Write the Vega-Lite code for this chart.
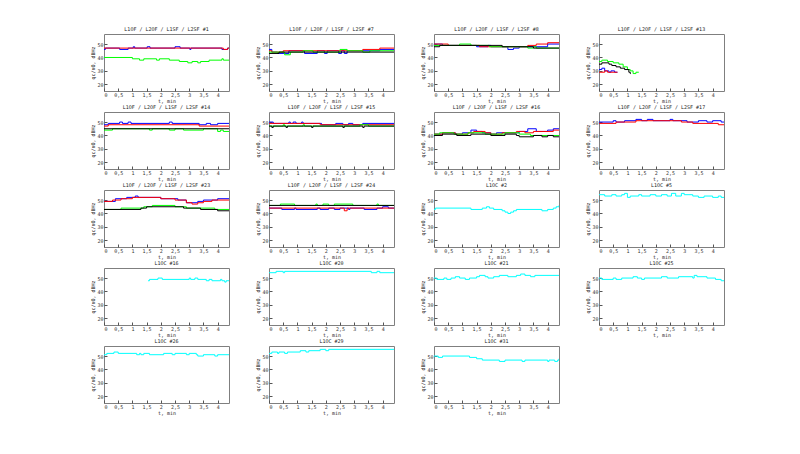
{
  "$schema": "https://vega.github.io/schema/vega-lite/v6.json",
  "padding": {"left": 90, "top": 26, "right": 5, "bottom": 5},
  "background": "white",
  "data": {
    "values": [
      {"p": "F1", "s": "L1OF", "t": 0, "q": 46}, {"p": "F1", "s": "L1OF", "t": 0.05, "q": 47}, {"p": "F1", "s": "L1OF", "t": 0.55, "q": 46}, {"p": "F1", "s": "L1OF", "t": 0.85, "q": 47}, {"p": "F1", "s": "L1OF", "t": 1.03, "q": 48}, {"p": "F1", "s": "L1OF", "t": 1.08, "q": 47}, {"p": "F1", "s": "L1OF", "t": 1.52, "q": 48}, {"p": "F1", "s": "L1OF", "t": 1.62, "q": 47}, {"p": "F1", "s": "L1OF", "t": 2.5, "q": 48}, {"p": "F1", "s": "L1OF", "t": 2.68, "q": 47}, {"p": "F1", "s": "L1OF", "t": 3.02, "q": 46}, {"p": "F1", "s": "L1OF", "t": 3.06, "q": 47}, {"p": "F1", "s": "L1OF", "t": 4.15, "q": 46}, {"p": "F1", "s": "L1OF", "t": 4.35, "q": 47}, {"p": "F1", "s": "L1OF", "t": 4.4, "q": 47},
      {"p": "F1", "s": "L2OF", "t": 0, "q": 47}, {"p": "F1", "s": "L2OF", "t": 4.2, "q": 46}, {"p": "F1", "s": "L2OF", "t": 4.35, "q": 47}, {"p": "F1", "s": "L2OF", "t": 4.4, "q": 47},
      {"p": "F1", "s": "L1SF", "t": 0, "q": 40}, {"p": "F1", "s": "L1SF", "t": 1.0, "q": 39}, {"p": "F1", "s": "L1SF", "t": 1.25, "q": 38}, {"p": "F1", "s": "L1SF", "t": 1.4, "q": 39}, {"p": "F1", "s": "L1SF", "t": 1.85, "q": 38}, {"p": "F1", "s": "L1SF", "t": 1.95, "q": 39}, {"p": "F1", "s": "L1SF", "t": 2.3, "q": 38}, {"p": "F1", "s": "L1SF", "t": 2.65, "q": 37}, {"p": "F1", "s": "L1SF", "t": 2.95, "q": 36}, {"p": "F1", "s": "L1SF", "t": 3.1, "q": 37}, {"p": "F1", "s": "L1SF", "t": 3.3, "q": 36}, {"p": "F1", "s": "L1SF", "t": 3.4, "q": 37}, {"p": "F1", "s": "L1SF", "t": 3.7, "q": 38}, {"p": "F1", "s": "L1SF", "t": 4.15, "q": 39}, {"p": "F1", "s": "L1SF", "t": 4.2, "q": 38}, {"p": "F1", "s": "L1SF", "t": 4.4, "q": 38},

      {"p": "F7", "s": "L1OF", "t": 0, "q": 46}, {"p": "F7", "s": "L1OF", "t": 0.1, "q": 44}, {"p": "F7", "s": "L1OF", "t": 0.3, "q": 43}, {"p": "F7", "s": "L1OF", "t": 0.7, "q": 45}, {"p": "F7", "s": "L1OF", "t": 1.25, "q": 43}, {"p": "F7", "s": "L1OF", "t": 1.7, "q": 45}, {"p": "F7", "s": "L1OF", "t": 1.95, "q": 43}, {"p": "F7", "s": "L1OF", "t": 2.05, "q": 45}, {"p": "F7", "s": "L1OF", "t": 2.45, "q": 43}, {"p": "F7", "s": "L1OF", "t": 2.55, "q": 45}, {"p": "F7", "s": "L1OF", "t": 2.65, "q": 43}, {"p": "F7", "s": "L1OF", "t": 2.75, "q": 45}, {"p": "F7", "s": "L1OF", "t": 3.9, "q": 46}, {"p": "F7", "s": "L1OF", "t": 4.4, "q": 46},
      {"p": "F7", "s": "L2OF", "t": 0, "q": 45}, {"p": "F7", "s": "L2OF", "t": 0.1, "q": 44}, {"p": "F7", "s": "L2OF", "t": 0.5, "q": 45}, {"p": "F7", "s": "L2OF", "t": 3.3, "q": 46}, {"p": "F7", "s": "L2OF", "t": 3.9, "q": 47}, {"p": "F7", "s": "L2OF", "t": 4.4, "q": 47},
      {"p": "F7", "s": "L1SF", "t": 0, "q": 44}, {"p": "F7", "s": "L1SF", "t": 0.55, "q": 42}, {"p": "F7", "s": "L1SF", "t": 0.75, "q": 44}, {"p": "F7", "s": "L1SF", "t": 1.2, "q": 45}, {"p": "F7", "s": "L1SF", "t": 1.55, "q": 44}, {"p": "F7", "s": "L1SF", "t": 2.5, "q": 46}, {"p": "F7", "s": "L1SF", "t": 2.75, "q": 45}, {"p": "F7", "s": "L1SF", "t": 3.3, "q": 44}, {"p": "F7", "s": "L1SF", "t": 3.55, "q": 45}, {"p": "F7", "s": "L1SF", "t": 4.4, "q": 45},
      {"p": "F7", "s": "L2SF", "t": 0, "q": 43}, {"p": "F7", "s": "L2SF", "t": 0.35, "q": 44}, {"p": "F7", "s": "L2SF", "t": 4.4, "q": 44},

      {"p": "F8", "s": "L1OF", "t": 0, "q": 50}, {"p": "F8", "s": "L1OF", "t": 0.3, "q": 49}, {"p": "F8", "s": "L1OF", "t": 1.5, "q": 48}, {"p": "F8", "s": "L1OF", "t": 1.9, "q": 49}, {"p": "F8", "s": "L1OF", "t": 2.0, "q": 48}, {"p": "F8", "s": "L1OF", "t": 2.6, "q": 46}, {"p": "F8", "s": "L1OF", "t": 2.8, "q": 47}, {"p": "F8", "s": "L1OF", "t": 3.0, "q": 48}, {"p": "F8", "s": "L1OF", "t": 4.0, "q": 50}, {"p": "F8", "s": "L1OF", "t": 4.4, "q": 50},
      {"p": "F8", "s": "L2OF", "t": 0, "q": 50}, {"p": "F8", "s": "L2OF", "t": 0.5, "q": 49}, {"p": "F8", "s": "L2OF", "t": 1.6, "q": 48}, {"p": "F8", "s": "L2OF", "t": 3.3, "q": 49}, {"p": "F8", "s": "L2OF", "t": 3.6, "q": 50}, {"p": "F8", "s": "L2OF", "t": 4.0, "q": 51}, {"p": "F8", "s": "L2OF", "t": 4.4, "q": 51},
      {"p": "F8", "s": "L1SF", "t": 0, "q": 49}, {"p": "F8", "s": "L1SF", "t": 0.9, "q": 50}, {"p": "F8", "s": "L1SF", "t": 1.3, "q": 49}, {"p": "F8", "s": "L1SF", "t": 1.95, "q": 48}, {"p": "F8", "s": "L1SF", "t": 3.3, "q": 47}, {"p": "F8", "s": "L1SF", "t": 3.5, "q": 48}, {"p": "F8", "s": "L1SF", "t": 3.6, "q": 47}, {"p": "F8", "s": "L1SF", "t": 4.4, "q": 47},
      {"p": "F8", "s": "L2SF", "t": 0, "q": 48}, {"p": "F8", "s": "L2SF", "t": 0.2, "q": 49}, {"p": "F8", "s": "L2SF", "t": 2.4, "q": 48}, {"p": "F8", "s": "L2SF", "t": 3.5, "q": 47}, {"p": "F8", "s": "L2SF", "t": 4.4, "q": 47},

      {"p": "F13", "s": "L1OF", "t": 0, "q": 31}, {"p": "F13", "s": "L1OF", "t": 0.1, "q": 32}, {"p": "F13", "s": "L1OF", "t": 0.2, "q": 30}, {"p": "F13", "s": "L1OF", "t": 0.35, "q": 29}, {"p": "F13", "s": "L1OF", "t": 0.42, "q": 30}, {"p": "F13", "s": "L1OF", "t": 0.55, "q": 29}, {"p": "F13", "s": "L1OF", "t": 0.65, "q": 29},
      {"p": "F13", "s": "L2OF", "t": 0, "q": 29}, {"p": "F13", "s": "L2OF", "t": 0.2, "q": 30}, {"p": "F13", "s": "L2OF", "t": 0.3, "q": 29}, {"p": "F13", "s": "L2OF", "t": 0.65, "q": 29},
      {"p": "F13", "s": "L1SF", "t": 0, "q": 37}, {"p": "F13", "s": "L1SF", "t": 0.1, "q": 38}, {"p": "F13", "s": "L1SF", "t": 0.3, "q": 37}, {"p": "F13", "s": "L1SF", "t": 0.5, "q": 36}, {"p": "F13", "s": "L1SF", "t": 0.7, "q": 35}, {"p": "F13", "s": "L1SF", "t": 0.85, "q": 33}, {"p": "F13", "s": "L1SF", "t": 1.0, "q": 31}, {"p": "F13", "s": "L1SF", "t": 1.1, "q": 30}, {"p": "F13", "s": "L1SF", "t": 1.2, "q": 28}, {"p": "F13", "s": "L1SF", "t": 1.3, "q": 29}, {"p": "F13", "s": "L1SF", "t": 1.4, "q": 29},
      {"p": "F13", "s": "L2SF", "t": 0, "q": 35}, {"p": "F13", "s": "L2SF", "t": 0.1, "q": 36}, {"p": "F13", "s": "L2SF", "t": 0.35, "q": 35}, {"p": "F13", "s": "L2SF", "t": 0.45, "q": 34}, {"p": "F13", "s": "L2SF", "t": 0.6, "q": 33}, {"p": "F13", "s": "L2SF", "t": 0.75, "q": 32}, {"p": "F13", "s": "L2SF", "t": 0.9, "q": 31}, {"p": "F13", "s": "L2SF", "t": 1.05, "q": 29}, {"p": "F13", "s": "L2SF", "t": 1.1, "q": 28}, {"p": "F13", "s": "L2SF", "t": 1.12, "q": 28},

      {"p": "F14", "s": "L1OF", "t": 0, "q": 48}, {"p": "F14", "s": "L1OF", "t": 0.15, "q": 49}, {"p": "F14", "s": "L1OF", "t": 0.55, "q": 50}, {"p": "F14", "s": "L1OF", "t": 0.65, "q": 49}, {"p": "F14", "s": "L1OF", "t": 0.85, "q": 50}, {"p": "F14", "s": "L1OF", "t": 0.95, "q": 49}, {"p": "F14", "s": "L1OF", "t": 2.3, "q": 50}, {"p": "F14", "s": "L1OF", "t": 2.4, "q": 49}, {"p": "F14", "s": "L1OF", "t": 3.35, "q": 48}, {"p": "F14", "s": "L1OF", "t": 3.6, "q": 49}, {"p": "F14", "s": "L1OF", "t": 3.75, "q": 48}, {"p": "F14", "s": "L1OF", "t": 4.0, "q": 49}, {"p": "F14", "s": "L1OF", "t": 4.4, "q": 49},
      {"p": "F14", "s": "L2OF", "t": 0, "q": 47}, {"p": "F14", "s": "L2OF", "t": 0.15, "q": 48}, {"p": "F14", "s": "L2OF", "t": 3.35, "q": 47}, {"p": "F14", "s": "L2OF", "t": 4.4, "q": 47},
      {"p": "F14", "s": "L1SF", "t": 0, "q": 44}, {"p": "F14", "s": "L1SF", "t": 0.3, "q": 45}, {"p": "F14", "s": "L1SF", "t": 1.6, "q": 44}, {"p": "F14", "s": "L1SF", "t": 1.7, "q": 45}, {"p": "F14", "s": "L1SF", "t": 2.3, "q": 44}, {"p": "F14", "s": "L1SF", "t": 2.5, "q": 45}, {"p": "F14", "s": "L1SF", "t": 2.8, "q": 44}, {"p": "F14", "s": "L1SF", "t": 3.5, "q": 45}, {"p": "F14", "s": "L1SF", "t": 4.0, "q": 43}, {"p": "F14", "s": "L1SF", "t": 4.1, "q": 44}, {"p": "F14", "s": "L1SF", "t": 4.2, "q": 43}, {"p": "F14", "s": "L1SF", "t": 4.4, "q": 43},
      {"p": "F14", "s": "L2SF", "t": 0, "q": 45}, {"p": "F14", "s": "L2SF", "t": 4.4, "q": 45},

      {"p": "F15", "s": "L1OF", "t": 0, "q": 50}, {"p": "F15", "s": "L1OF", "t": 0.15, "q": 49}, {"p": "F15", "s": "L1OF", "t": 0.7, "q": 50}, {"p": "F15", "s": "L1OF", "t": 0.75, "q": 49}, {"p": "F15", "s": "L1OF", "t": 0.85, "q": 50}, {"p": "F15", "s": "L1OF", "t": 0.95, "q": 49}, {"p": "F15", "s": "L1OF", "t": 1.15, "q": 50}, {"p": "F15", "s": "L1OF", "t": 1.2, "q": 49}, {"p": "F15", "s": "L1OF", "t": 1.85, "q": 48}, {"p": "F15", "s": "L1OF", "t": 2.35, "q": 49}, {"p": "F15", "s": "L1OF", "t": 2.6, "q": 48}, {"p": "F15", "s": "L1OF", "t": 2.8, "q": 49}, {"p": "F15", "s": "L1OF", "t": 2.95, "q": 48}, {"p": "F15", "s": "L1OF", "t": 3.3, "q": 49}, {"p": "F15", "s": "L1OF", "t": 4.4, "q": 49},
      {"p": "F15", "s": "L2OF", "t": 0, "q": 49}, {"p": "F15", "s": "L2OF", "t": 1.8, "q": 48}, {"p": "F15", "s": "L2OF", "t": 4.4, "q": 48},
      {"p": "F15", "s": "L1SF", "t": 0, "q": 47}, {"p": "F15", "s": "L1SF", "t": 0.5, "q": 48}, {"p": "F15", "s": "L1SF", "t": 0.55, "q": 47}, {"p": "F15", "s": "L1SF", "t": 1.2, "q": 48}, {"p": "F15", "s": "L1SF", "t": 1.25, "q": 47}, {"p": "F15", "s": "L1SF", "t": 3.2, "q": 48}, {"p": "F15", "s": "L1SF", "t": 3.5, "q": 47}, {"p": "F15", "s": "L1SF", "t": 4.4, "q": 47},
      {"p": "F15", "s": "L2SF", "t": 0, "q": 47}, {"p": "F15", "s": "L2SF", "t": 0.1, "q": 46}, {"p": "F15", "s": "L2SF", "t": 0.15, "q": 47}, {"p": "F15", "s": "L2SF", "t": 0.6, "q": 46}, {"p": "F15", "s": "L2SF", "t": 0.65, "q": 47}, {"p": "F15", "s": "L2SF", "t": 1.5, "q": 46}, {"p": "F15", "s": "L2SF", "t": 1.55, "q": 47}, {"p": "F15", "s": "L2SF", "t": 2.6, "q": 46}, {"p": "F15", "s": "L2SF", "t": 2.65, "q": 47}, {"p": "F15", "s": "L2SF", "t": 3.3, "q": 46}, {"p": "F15", "s": "L2SF", "t": 3.35, "q": 47}, {"p": "F15", "s": "L2SF", "t": 4.4, "q": 47},

      {"p": "F16", "s": "L1OF", "t": 0, "q": 41}, {"p": "F16", "s": "L1OF", "t": 0.3, "q": 42}, {"p": "F16", "s": "L1OF", "t": 0.75, "q": 41}, {"p": "F16", "s": "L1OF", "t": 1.0, "q": 42}, {"p": "F16", "s": "L1OF", "t": 1.3, "q": 44}, {"p": "F16", "s": "L1OF", "t": 1.5, "q": 43}, {"p": "F16", "s": "L1OF", "t": 1.7, "q": 42}, {"p": "F16", "s": "L1OF", "t": 2.0, "q": 41}, {"p": "F16", "s": "L1OF", "t": 2.2, "q": 42}, {"p": "F16", "s": "L1OF", "t": 3.0, "q": 43}, {"p": "F16", "s": "L1OF", "t": 3.3, "q": 45}, {"p": "F16", "s": "L1OF", "t": 3.6, "q": 43}, {"p": "F16", "s": "L1OF", "t": 4.0, "q": 44}, {"p": "F16", "s": "L1OF", "t": 4.2, "q": 45}, {"p": "F16", "s": "L1OF", "t": 4.4, "q": 45},
      {"p": "F16", "s": "L2OF", "t": 0, "q": 41}, {"p": "F16", "s": "L2OF", "t": 0.3, "q": 42}, {"p": "F16", "s": "L2OF", "t": 0.75, "q": 41}, {"p": "F16", "s": "L2OF", "t": 1.2, "q": 42}, {"p": "F16", "s": "L2OF", "t": 1.4, "q": 43}, {"p": "F16", "s": "L2OF", "t": 1.8, "q": 42}, {"p": "F16", "s": "L2OF", "t": 2.0, "q": 41}, {"p": "F16", "s": "L2OF", "t": 2.4, "q": 42}, {"p": "F16", "s": "L2OF", "t": 2.9, "q": 43}, {"p": "F16", "s": "L2OF", "t": 3.2, "q": 42}, {"p": "F16", "s": "L2OF", "t": 3.5, "q": 43}, {"p": "F16", "s": "L2OF", "t": 4.2, "q": 44}, {"p": "F16", "s": "L2OF", "t": 4.4, "q": 44},
      {"p": "F16", "s": "L1SF", "t": 0, "q": 41}, {"p": "F16", "s": "L1SF", "t": 0.2, "q": 42}, {"p": "F16", "s": "L1SF", "t": 0.7, "q": 41}, {"p": "F16", "s": "L1SF", "t": 1.2, "q": 42}, {"p": "F16", "s": "L1SF", "t": 1.8, "q": 41}, {"p": "F16", "s": "L1SF", "t": 2.5, "q": 42}, {"p": "F16", "s": "L1SF", "t": 3.0, "q": 41}, {"p": "F16", "s": "L1SF", "t": 3.4, "q": 40}, {"p": "F16", "s": "L1SF", "t": 4.4, "q": 40},
      {"p": "F16", "s": "L2SF", "t": 0, "q": 40}, {"p": "F16", "s": "L2SF", "t": 0.3, "q": 41}, {"p": "F16", "s": "L2SF", "t": 0.8, "q": 40}, {"p": "F16", "s": "L2SF", "t": 1.3, "q": 41}, {"p": "F16", "s": "L2SF", "t": 2.0, "q": 40}, {"p": "F16", "s": "L2SF", "t": 2.5, "q": 41}, {"p": "F16", "s": "L2SF", "t": 2.9, "q": 40}, {"p": "F16", "s": "L2SF", "t": 3.0, "q": 39}, {"p": "F16", "s": "L2SF", "t": 3.5, "q": 40}, {"p": "F16", "s": "L2SF", "t": 3.8, "q": 39}, {"p": "F16", "s": "L2SF", "t": 4.0, "q": 40}, {"p": "F16", "s": "L2SF", "t": 4.2, "q": 39}, {"p": "F16", "s": "L2SF", "t": 4.4, "q": 39},

      {"p": "F17", "s": "L1OF", "t": 0, "q": 50}, {"p": "F17", "s": "L1OF", "t": 0.5, "q": 51}, {"p": "F17", "s": "L1OF", "t": 0.6, "q": 50}, {"p": "F17", "s": "L1OF", "t": 0.9, "q": 51}, {"p": "F17", "s": "L1OF", "t": 1.3, "q": 52}, {"p": "F17", "s": "L1OF", "t": 1.5, "q": 51}, {"p": "F17", "s": "L1OF", "t": 1.7, "q": 52}, {"p": "F17", "s": "L1OF", "t": 1.9, "q": 51}, {"p": "F17", "s": "L1OF", "t": 2.5, "q": 52}, {"p": "F17", "s": "L1OF", "t": 2.6, "q": 51}, {"p": "F17", "s": "L1OF", "t": 3.1, "q": 50}, {"p": "F17", "s": "L1OF", "t": 3.5, "q": 51}, {"p": "F17", "s": "L1OF", "t": 3.8, "q": 50}, {"p": "F17", "s": "L1OF", "t": 4.0, "q": 51}, {"p": "F17", "s": "L1OF", "t": 4.3, "q": 50}, {"p": "F17", "s": "L1OF", "t": 4.4, "q": 50},
      {"p": "F17", "s": "L2OF", "t": 0, "q": 49}, {"p": "F17", "s": "L2OF", "t": 0.6, "q": 50}, {"p": "F17", "s": "L2OF", "t": 1.3, "q": 51}, {"p": "F17", "s": "L2OF", "t": 2.9, "q": 50}, {"p": "F17", "s": "L2OF", "t": 3.3, "q": 49}, {"p": "F17", "s": "L2OF", "t": 4.2, "q": 48}, {"p": "F17", "s": "L2OF", "t": 4.4, "q": 48},

      {"p": "F23", "s": "L1OF", "t": 0, "q": 49}, {"p": "F23", "s": "L1OF", "t": 0.4, "q": 51}, {"p": "F23", "s": "L1OF", "t": 0.8, "q": 52}, {"p": "F23", "s": "L1OF", "t": 1.1, "q": 53}, {"p": "F23", "s": "L1OF", "t": 1.2, "q": 52}, {"p": "F23", "s": "L1OF", "t": 2.0, "q": 51}, {"p": "F23", "s": "L1OF", "t": 2.6, "q": 50}, {"p": "F23", "s": "L1OF", "t": 2.9, "q": 48}, {"p": "F23", "s": "L1OF", "t": 3.3, "q": 49}, {"p": "F23", "s": "L1OF", "t": 3.5, "q": 50}, {"p": "F23", "s": "L1OF", "t": 4.0, "q": 51}, {"p": "F23", "s": "L1OF", "t": 4.4, "q": 51},
      {"p": "F23", "s": "L2OF", "t": 0, "q": 49}, {"p": "F23", "s": "L2OF", "t": 0.3, "q": 50}, {"p": "F23", "s": "L2OF", "t": 0.6, "q": 51}, {"p": "F23", "s": "L2OF", "t": 1.0, "q": 52}, {"p": "F23", "s": "L2OF", "t": 2.0, "q": 51}, {"p": "F23", "s": "L2OF", "t": 2.5, "q": 50}, {"p": "F23", "s": "L2OF", "t": 2.9, "q": 48}, {"p": "F23", "s": "L2OF", "t": 3.1, "q": 47}, {"p": "F23", "s": "L2OF", "t": 3.3, "q": 48}, {"p": "F23", "s": "L2OF", "t": 3.5, "q": 49}, {"p": "F23", "s": "L2OF", "t": 3.8, "q": 50}, {"p": "F23", "s": "L2OF", "t": 4.4, "q": 50},
      {"p": "F23", "s": "L1SF", "t": 0, "q": 43}, {"p": "F23", "s": "L1SF", "t": 0.6, "q": 44}, {"p": "F23", "s": "L1SF", "t": 1.4, "q": 45}, {"p": "F23", "s": "L1SF", "t": 1.7, "q": 46}, {"p": "F23", "s": "L1SF", "t": 2.5, "q": 45}, {"p": "F23", "s": "L1SF", "t": 2.9, "q": 44}, {"p": "F23", "s": "L1SF", "t": 3.9, "q": 43}, {"p": "F23", "s": "L1SF", "t": 4.4, "q": 43},
      {"p": "F23", "s": "L2SF", "t": 0, "q": 43}, {"p": "F23", "s": "L2SF", "t": 1.3, "q": 44}, {"p": "F23", "s": "L2SF", "t": 1.5, "q": 45}, {"p": "F23", "s": "L2SF", "t": 2.8, "q": 44}, {"p": "F23", "s": "L2SF", "t": 3.4, "q": 43}, {"p": "F23", "s": "L2SF", "t": 4.0, "q": 42}, {"p": "F23", "s": "L2SF", "t": 4.4, "q": 42},

      {"p": "F24", "s": "L1OF", "t": 0, "q": 44}, {"p": "F24", "s": "L1OF", "t": 0.45, "q": 43}, {"p": "F24", "s": "L1OF", "t": 0.9, "q": 44}, {"p": "F24", "s": "L1OF", "t": 0.95, "q": 43}, {"p": "F24", "s": "L1OF", "t": 1.7, "q": 44}, {"p": "F24", "s": "L1OF", "t": 1.8, "q": 43}, {"p": "F24", "s": "L1OF", "t": 2.1, "q": 44}, {"p": "F24", "s": "L1OF", "t": 2.3, "q": 43}, {"p": "F24", "s": "L1OF", "t": 2.5, "q": 44}, {"p": "F24", "s": "L1OF", "t": 2.8, "q": 43}, {"p": "F24", "s": "L1OF", "t": 2.85, "q": 44}, {"p": "F24", "s": "L1OF", "t": 3.35, "q": 43}, {"p": "F24", "s": "L1OF", "t": 3.8, "q": 44}, {"p": "F24", "s": "L1OF", "t": 4.0, "q": 45}, {"p": "F24", "s": "L1OF", "t": 4.2, "q": 44}, {"p": "F24", "s": "L1OF", "t": 4.4, "q": 44},
      {"p": "F24", "s": "L2OF", "t": 0, "q": 44}, {"p": "F24", "s": "L2OF", "t": 2.65, "q": 42}, {"p": "F24", "s": "L2OF", "t": 2.75, "q": 44}, {"p": "F24", "s": "L2OF", "t": 4.4, "q": 44},
      {"p": "F24", "s": "L1SF", "t": 0, "q": 46}, {"p": "F24", "s": "L1SF", "t": 0.4, "q": 47}, {"p": "F24", "s": "L1SF", "t": 0.9, "q": 46}, {"p": "F24", "s": "L1SF", "t": 1.65, "q": 47}, {"p": "F24", "s": "L1SF", "t": 1.7, "q": 46}, {"p": "F24", "s": "L1SF", "t": 1.9, "q": 47}, {"p": "F24", "s": "L1SF", "t": 2.1, "q": 46}, {"p": "F24", "s": "L1SF", "t": 2.3, "q": 47}, {"p": "F24", "s": "L1SF", "t": 2.95, "q": 46}, {"p": "F24", "s": "L1SF", "t": 3.8, "q": 47}, {"p": "F24", "s": "L1SF", "t": 3.85, "q": 46}, {"p": "F24", "s": "L1SF", "t": 4.4, "q": 46},
      {"p": "F24", "s": "L2SF", "t": 0, "q": 46}, {"p": "F24", "s": "L2SF", "t": 4.4, "q": 46},

      {"p": "C2", "s": "L1OC", "t": 0, "q": 43}, {"p": "C2", "s": "L1OC", "t": 0.05, "q": 44}, {"p": "C2", "s": "L1OC", "t": 1.3, "q": 43}, {"p": "C2", "s": "L1OC", "t": 1.7, "q": 44}, {"p": "C2", "s": "L1OC", "t": 1.85, "q": 45}, {"p": "C2", "s": "L1OC", "t": 1.95, "q": 44}, {"p": "C2", "s": "L1OC", "t": 2.1, "q": 43}, {"p": "C2", "s": "L1OC", "t": 2.4, "q": 42}, {"p": "C2", "s": "L1OC", "t": 2.5, "q": 41}, {"p": "C2", "s": "L1OC", "t": 2.6, "q": 40}, {"p": "C2", "s": "L1OC", "t": 2.7, "q": 41}, {"p": "C2", "s": "L1OC", "t": 2.8, "q": 42}, {"p": "C2", "s": "L1OC", "t": 2.9, "q": 43}, {"p": "C2", "s": "L1OC", "t": 3.8, "q": 42}, {"p": "C2", "s": "L1OC", "t": 4.0, "q": 43}, {"p": "C2", "s": "L1OC", "t": 4.2, "q": 44}, {"p": "C2", "s": "L1OC", "t": 4.3, "q": 45}, {"p": "C2", "s": "L1OC", "t": 4.4, "q": 46},

      {"p": "C5", "s": "L1OC", "t": 0, "q": 54}, {"p": "C5", "s": "L1OC", "t": 0.2, "q": 53}, {"p": "C5", "s": "L1OC", "t": 0.45, "q": 54}, {"p": "C5", "s": "L1OC", "t": 0.6, "q": 53}, {"p": "C5", "s": "L1OC", "t": 0.8, "q": 54}, {"p": "C5", "s": "L1OC", "t": 0.9, "q": 55}, {"p": "C5", "s": "L1OC", "t": 1.0, "q": 52}, {"p": "C5", "s": "L1OC", "t": 1.1, "q": 53}, {"p": "C5", "s": "L1OC", "t": 1.4, "q": 54}, {"p": "C5", "s": "L1OC", "t": 1.5, "q": 53}, {"p": "C5", "s": "L1OC", "t": 1.8, "q": 54}, {"p": "C5", "s": "L1OC", "t": 2.0, "q": 53}, {"p": "C5", "s": "L1OC", "t": 2.2, "q": 54}, {"p": "C5", "s": "L1OC", "t": 2.4, "q": 53}, {"p": "C5", "s": "L1OC", "t": 2.55, "q": 55}, {"p": "C5", "s": "L1OC", "t": 2.7, "q": 53}, {"p": "C5", "s": "L1OC", "t": 2.9, "q": 55}, {"p": "C5", "s": "L1OC", "t": 3.0, "q": 54}, {"p": "C5", "s": "L1OC", "t": 3.3, "q": 53}, {"p": "C5", "s": "L1OC", "t": 3.5, "q": 52}, {"p": "C5", "s": "L1OC", "t": 3.7, "q": 53}, {"p": "C5", "s": "L1OC", "t": 4.0, "q": 52}, {"p": "C5", "s": "L1OC", "t": 4.2, "q": 53}, {"p": "C5", "s": "L1OC", "t": 4.3, "q": 52}, {"p": "C5", "s": "L1OC", "t": 4.4, "q": 52},

      {"p": "C16", "s": "L1OC", "t": 1.55, "q": 48}, {"p": "C16", "s": "L1OC", "t": 1.6, "q": 49}, {"p": "C16", "s": "L1OC", "t": 1.9, "q": 50}, {"p": "C16", "s": "L1OC", "t": 2.05, "q": 49}, {"p": "C16", "s": "L1OC", "t": 3.0, "q": 50}, {"p": "C16", "s": "L1OC", "t": 3.05, "q": 49}, {"p": "C16", "s": "L1OC", "t": 3.2, "q": 50}, {"p": "C16", "s": "L1OC", "t": 3.3, "q": 49}, {"p": "C16", "s": "L1OC", "t": 3.6, "q": 48}, {"p": "C16", "s": "L1OC", "t": 3.7, "q": 49}, {"p": "C16", "s": "L1OC", "t": 3.8, "q": 48}, {"p": "C16", "s": "L1OC", "t": 4.1, "q": 49}, {"p": "C16", "s": "L1OC", "t": 4.15, "q": 48}, {"p": "C16", "s": "L1OC", "t": 4.25, "q": 47}, {"p": "C16", "s": "L1OC", "t": 4.3, "q": 48}, {"p": "C16", "s": "L1OC", "t": 4.4, "q": 48},

      {"p": "C20", "s": "L1OC", "t": 0, "q": 54}, {"p": "C20", "s": "L1OC", "t": 0.25, "q": 55}, {"p": "C20", "s": "L1OC", "t": 0.5, "q": 54}, {"p": "C20", "s": "L1OC", "t": 0.55, "q": 55}, {"p": "C20", "s": "L1OC", "t": 3.6, "q": 54}, {"p": "C20", "s": "L1OC", "t": 3.8, "q": 55}, {"p": "C20", "s": "L1OC", "t": 3.9, "q": 54}, {"p": "C20", "s": "L1OC", "t": 4.4, "q": 54},

      {"p": "C21", "s": "L1OC", "t": 0, "q": 50}, {"p": "C21", "s": "L1OC", "t": 0.1, "q": 49}, {"p": "C21", "s": "L1OC", "t": 0.35, "q": 50}, {"p": "C21", "s": "L1OC", "t": 0.45, "q": 49}, {"p": "C21", "s": "L1OC", "t": 0.6, "q": 50}, {"p": "C21", "s": "L1OC", "t": 0.75, "q": 51}, {"p": "C21", "s": "L1OC", "t": 0.9, "q": 50}, {"p": "C21", "s": "L1OC", "t": 1.1, "q": 49}, {"p": "C21", "s": "L1OC", "t": 1.25, "q": 50}, {"p": "C21", "s": "L1OC", "t": 1.5, "q": 51}, {"p": "C21", "s": "L1OC", "t": 1.6, "q": 52}, {"p": "C21", "s": "L1OC", "t": 1.8, "q": 51}, {"p": "C21", "s": "L1OC", "t": 1.9, "q": 50}, {"p": "C21", "s": "L1OC", "t": 2.1, "q": 51}, {"p": "C21", "s": "L1OC", "t": 2.3, "q": 52}, {"p": "C21", "s": "L1OC", "t": 2.6, "q": 51}, {"p": "C21", "s": "L1OC", "t": 2.9, "q": 52}, {"p": "C21", "s": "L1OC", "t": 3.05, "q": 53}, {"p": "C21", "s": "L1OC", "t": 3.2, "q": 52}, {"p": "C21", "s": "L1OC", "t": 3.4, "q": 51}, {"p": "C21", "s": "L1OC", "t": 3.55, "q": 52}, {"p": "C21", "s": "L1OC", "t": 4.4, "q": 52},

      {"p": "C25", "s": "L1OC", "t": 0, "q": 50}, {"p": "C25", "s": "L1OC", "t": 0.1, "q": 49}, {"p": "C25", "s": "L1OC", "t": 0.5, "q": 50}, {"p": "C25", "s": "L1OC", "t": 0.6, "q": 49}, {"p": "C25", "s": "L1OC", "t": 0.8, "q": 50}, {"p": "C25", "s": "L1OC", "t": 1.2, "q": 51}, {"p": "C25", "s": "L1OC", "t": 1.35, "q": 50}, {"p": "C25", "s": "L1OC", "t": 1.5, "q": 49}, {"p": "C25", "s": "L1OC", "t": 1.6, "q": 50}, {"p": "C25", "s": "L1OC", "t": 2.2, "q": 51}, {"p": "C25", "s": "L1OC", "t": 2.4, "q": 50}, {"p": "C25", "s": "L1OC", "t": 2.8, "q": 51}, {"p": "C25", "s": "L1OC", "t": 3.3, "q": 50}, {"p": "C25", "s": "L1OC", "t": 3.35, "q": 52}, {"p": "C25", "s": "L1OC", "t": 3.45, "q": 51}, {"p": "C25", "s": "L1OC", "t": 3.8, "q": 50}, {"p": "C25", "s": "L1OC", "t": 4.1, "q": 49}, {"p": "C25", "s": "L1OC", "t": 4.3, "q": 48}, {"p": "C25", "s": "L1OC", "t": 4.4, "q": 48},

      {"p": "C26", "s": "L1OC", "t": 0, "q": 51}, {"p": "C26", "s": "L1OC", "t": 0.1, "q": 52}, {"p": "C26", "s": "L1OC", "t": 0.35, "q": 53}, {"p": "C26", "s": "L1OC", "t": 0.5, "q": 52}, {"p": "C26", "s": "L1OC", "t": 1.15, "q": 51}, {"p": "C26", "s": "L1OC", "t": 1.25, "q": 52}, {"p": "C26", "s": "L1OC", "t": 1.3, "q": 51}, {"p": "C26", "s": "L1OC", "t": 1.4, "q": 52}, {"p": "C26", "s": "L1OC", "t": 1.6, "q": 51}, {"p": "C26", "s": "L1OC", "t": 2.1, "q": 52}, {"p": "C26", "s": "L1OC", "t": 2.4, "q": 51}, {"p": "C26", "s": "L1OC", "t": 2.5, "q": 52}, {"p": "C26", "s": "L1OC", "t": 2.9, "q": 51}, {"p": "C26", "s": "L1OC", "t": 3.0, "q": 52}, {"p": "C26", "s": "L1OC", "t": 3.25, "q": 51}, {"p": "C26", "s": "L1OC", "t": 3.3, "q": 50}, {"p": "C26", "s": "L1OC", "t": 3.5, "q": 51}, {"p": "C26", "s": "L1OC", "t": 3.9, "q": 50}, {"p": "C26", "s": "L1OC", "t": 4.0, "q": 51}, {"p": "C26", "s": "L1OC", "t": 4.4, "q": 51},

      {"p": "C29", "s": "L1OC", "t": 0, "q": 52}, {"p": "C29", "s": "L1OC", "t": 0.1, "q": 53}, {"p": "C29", "s": "L1OC", "t": 0.3, "q": 52}, {"p": "C29", "s": "L1OC", "t": 0.35, "q": 53}, {"p": "C29", "s": "L1OC", "t": 0.55, "q": 52}, {"p": "C29", "s": "L1OC", "t": 0.65, "q": 53}, {"p": "C29", "s": "L1OC", "t": 1.1, "q": 54}, {"p": "C29", "s": "L1OC", "t": 1.3, "q": 53}, {"p": "C29", "s": "L1OC", "t": 1.4, "q": 54}, {"p": "C29", "s": "L1OC", "t": 1.8, "q": 55}, {"p": "C29", "s": "L1OC", "t": 2.0, "q": 54}, {"p": "C29", "s": "L1OC", "t": 2.1, "q": 55}, {"p": "C29", "s": "L1OC", "t": 4.4, "q": 55},

      {"p": "C31", "s": "L1OC", "t": 0, "q": 50}, {"p": "C31", "s": "L1OC", "t": 0.15, "q": 49}, {"p": "C31", "s": "L1OC", "t": 0.3, "q": 50}, {"p": "C31", "s": "L1OC", "t": 1.25, "q": 49}, {"p": "C31", "s": "L1OC", "t": 1.5, "q": 48}, {"p": "C31", "s": "L1OC", "t": 1.7, "q": 47}, {"p": "C31", "s": "L1OC", "t": 2.3, "q": 46}, {"p": "C31", "s": "L1OC", "t": 2.5, "q": 47}, {"p": "C31", "s": "L1OC", "t": 3.1, "q": 46}, {"p": "C31", "s": "L1OC", "t": 3.2, "q": 47}, {"p": "C31", "s": "L1OC", "t": 4.0, "q": 46}, {"p": "C31", "s": "L1OC", "t": 4.05, "q": 47}, {"p": "C31", "s": "L1OC", "t": 4.25, "q": 46}, {"p": "C31", "s": "L1OC", "t": 4.35, "q": 47}, {"p": "C31", "s": "L1OC", "t": 4.4, "q": 48}
    ]
  },
  "facet": {
    "field": "p",
    "type": "nominal",
    "sort": ["F1", "F7", "F8", "F13", "F14", "F15", "F16", "F17", "F23", "F24", "C2", "C5", "C16", "C20", "C21", "C25", "C26", "C29", "C31"],
    "header": {
      "title": null,
      "labelFont": "DejaVu Sans Mono",
      "labelFontSize": 5,
      "labelColor": "#222222",
      "labelPadding": 2,
      "labelExpr": "(slice(datum.value, 0, 1) == 'F' ? 'L1OF / L2OF / L1SF / L2SF #' : 'L1OC #') + slice(datum.value, 1)"
    }
  },
  "columns": 4,
  "bounds": "flush",
  "spacing": {"row": 21, "column": 40},
  "spec": {
    "width": 125,
    "height": 57,
    "mark": {"type": "line", "interpolate": "step-after", "strokeWidth": 1, "clip": true},
    "encoding": {
      "x": {
        "field": "t",
        "type": "quantitative",
        "scale": {"domain": [0, 4.4], "nice": false, "zero": false},
        "axis": {
          "title": "t, min",
          "values": [0, 0.5, 1, 1.5, 2, 2.5, 3, 3.5, 4],
          "labelExpr": "replace(format(datum.value, '.1~f'), '.', ',')"
        }
      },
      "y": {
        "field": "q",
        "type": "quantitative",
        "scale": {"domain": [15, 57.5], "nice": false, "zero": false},
        "axis": {"title": "qc/n0, dBHz", "values": [20, 30, 40, 50]}
      },
      "color": {
        "field": "s",
        "type": "nominal",
        "scale": {
          "domain": ["L1OF", "L2OF", "L1SF", "L2SF", "L1OC"],
          "range": ["#0000ff", "#ff0000", "#00ff00", "#000000", "#00ffff"]
        },
        "legend": null
      }
    }
  },
  "resolve": {"axis": {"x": "independent", "y": "independent"}},
  "config": {
    "view": {"stroke": "#7f7f7f", "strokeWidth": 1},
    "axis": {
      "grid": false,
      "domain": false,
      "ticks": true,
      "tickSize": -3,
      "tickColor": "#555555",
      "labelFont": "DejaVu Sans Mono",
      "labelFontSize": 5,
      "labelColor": "#333333",
      "labelPadding": 4,
      "titleFont": "DejaVu Sans Mono",
      "titleFontSize": 5,
      "titleFontWeight": "normal",
      "titleColor": "#222222",
      "titlePadding": 1
    }
  }
}
